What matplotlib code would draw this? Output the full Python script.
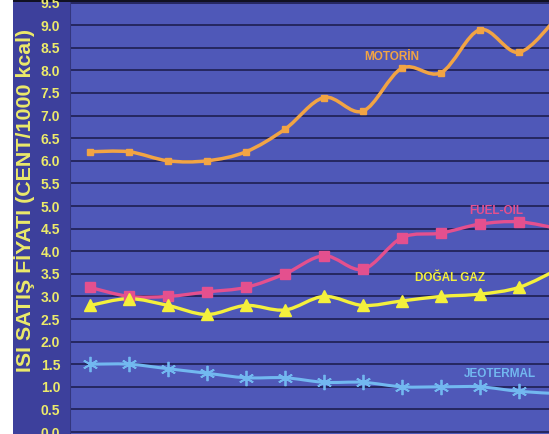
import numpy as np
import matplotlib.pyplot as plt
from matplotlib.path import Path
from matplotlib.patches import PathPatch, Rectangle

# yearly points (13th one falls just past the right edge)
years = np.arange(13)
motorin = [6.2, 6.2, 6.0, 6.0, 6.2, 6.7, 7.4, 7.1, 8.05, 7.95, 8.9, 8.4, 9.2]
fuel_oil = [3.2, 3.0, 3.0, 3.1, 3.2, 3.5, 3.9, 3.6, 4.3, 4.4, 4.6, 4.65, 4.5]
dogal_gaz = [2.8, 2.95, 2.8, 2.6, 2.8, 2.7, 3.0, 2.8, 2.9, 3.0, 3.05, 3.2, 3.6]
jeotermal = [1.5, 1.5, 1.4, 1.3, 1.2, 1.2, 1.1, 1.1, 1.0, 1.0, 1.0, 0.9, 0.85]
yticks = np.arange(0, 10, 0.5)
ylabels = ['%.1f' % t for t in yticks]

lib = ['Liberation Sans', 'DejaVu Sans']


def smooth_path(xs, ys):
    # catmull-rom segments written as cubic bezier path
    pts = np.column_stack([xs, ys]).astype(float)
    n = len(pts)
    verts = [pts[0]]
    codes = [Path.MOVETO]
    for i in range(n - 1):
        p0 = pts[max(i - 1, 0)]
        p1 = pts[i]
        p2 = pts[i + 1]
        p3 = pts[min(i + 2, n - 1)]
        verts += [p1 + (p2 - p0) / 6, p2 - (p3 - p1) / 6, p2]
        codes += [Path.CURVE4] * 3
    return Path(verts, codes)


fig = plt.figure(figsize=(5.49, 4.34), dpi=100, facecolor='white')
fig.patches.append(Rectangle((13 / 549, 0), 57 / 549, 1, transform=fig.transFigure,
                             facecolor='#3d409c', edgecolor='none', zorder=-2))
fig.patches.append(Rectangle((13 / 549, 432 / 434), 536 / 549, 2 / 434, transform=fig.transFigure,
                             facecolor='#111122', edgecolor='none', zorder=-2))

ax = fig.add_axes([70 / 549, 0, 479 / 549, 432 / 434])
ax.set_facecolor('#4f58b8')
ax.set_xlim(-20 / 39, 459 / 39)
ax.set_ylim(-2 / 45.5, 9.5 + 0.6 / 45.5)

series = [
    (motorin, '#f2a444', 's', 4, 2.5, None),
    (fuel_oil, '#e4508e', 's', 7, 2.4, None),
    (dogal_gaz, '#f4f03c', '^', 8, 2.4, None),
    (jeotermal, '#72b8f0', (6, 2, 0), 11, 2.2, 1.3),
]
for vals, col, mk, ms, lw, mew in series:
    ax.add_patch(PathPatch(smooth_path(years, vals), facecolor='none', edgecolor=col,
                           lw=lw, capstyle='round', zorder=3))
    ax.plot(years, vals, linestyle='none', marker=mk, ms=ms, color=col,
            mec=col, mew=mew if mew else 1, zorder=4)

ax.set_yticks(yticks)
ax.set_yticklabels(ylabels, color='#ecea6a', fontsize=10, fontweight='bold', family=lib)
ax.tick_params(axis='y', length=0, pad=7)
ax.set_xticks([])
ax.grid(axis='y', color='#1a1a48', lw=1.1)
for s in ax.spines.values():
    s.set_visible(False)
ax.axvline(-20 / 39, color='#33367e', lw=1.5)

ax.text(7.74, 8.3, 'MOTORİN', color='#f2a444', fontsize=8.5, fontweight='bold',
        family=lib, ha='center', va='center')
ax.text(10.41, 4.9, 'FUEL-OIL', color='#e4508e', fontsize=8.5, fontweight='bold',
        family=lib, ha='center', va='center')
ax.text(9.24, 3.4, 'DOĞAL GAZ', color='#f4f03c', fontsize=8.5, fontweight='bold',
        family=lib, ha='center', va='center')
ax.text(10.5, 1.28, 'JEOTERMAL', color='#72b8f0', fontsize=8.5, fontweight='bold',
        family=lib, ha='center', va='center')

fig.text(25 / 549, 1 - 200 / 434, 'ISI SATIŞ FİYATI (CENT/1000 kcal)', rotation=90,
         color='#ecea6a', fontsize=15.4, fontweight='bold', family=lib,
         ha='center', va='center')

fig.savefig('out.png', dpi=100)
